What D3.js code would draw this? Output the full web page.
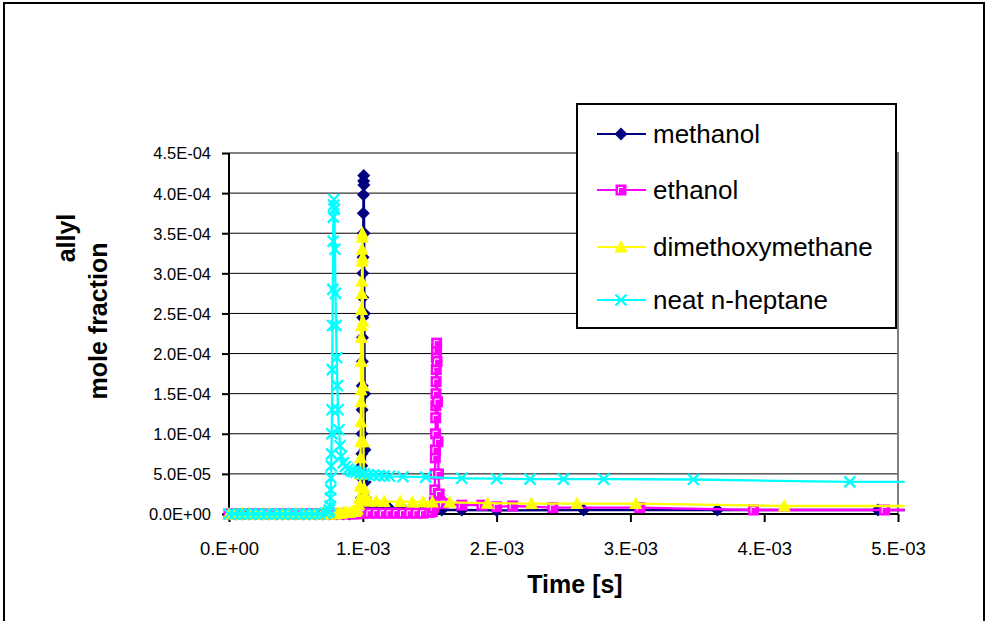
<!DOCTYPE html>
<html><head><meta charset="utf-8">
<script src="https://cdn.jsdelivr.net/npm/d3@7"></script>
<style>
html,body{margin:0;padding:0;background:#fff;}
text{font-family:"Liberation Sans",Arial,sans-serif;fill:#000;}
</style></head>
<body>
<svg id="chart" width="987" height="621"></svg>
<script>
// ---- data (time in ms, allyl mole fraction) ----
const seriesNames = ["methanol","ethanol","dimethoxymethane","neat n-heptane"];
const methanol = [[0,0],[0.05,0],[0.10,0],[0.15,0],[0.20,0],[0.25,0],[0.30,0],[0.35,0],[0.40,0],[0.45,0],[0.50,0],[0.55,0],[0.60,0],[0.65,0],[0.70,0],[0.75,0],[0.80,0],[0.85,0],[0.90,0],[0.95,1e-6],
 [0.97,2e-6],[0.985,5e-6],[0.990,2e-5],[0.991,4.5e-5],[0.992,6e-5],[0.993,7.5e-5],[0.994,1.0e-4],[0.995,1.3e-4],[0.996,1.6e-4],[0.997,1.9e-4],[0.998,2.2e-4],[0.999,2.45e-4],[1.000,2.7e-4],[1.001,3.0e-4],[1.002,3.2e-4],[1.003,3.5e-4],[1.004,3.75e-4],[1.005,3.98e-4],[1.006,4.15e-4],[1.007,4.22e-4],[1.008,4.1e-4],
 [1.010,3.5e-4],[1.012,2.5e-4],[1.014,1.5e-4],[1.016,8e-5],[1.018,4e-5],[1.020,2e-5],[1.030,1.1e-5],[1.050,8e-6],[1.10,8e-6],[1.20,7e-6],[1.30,7e-6],[1.45,6e-6],[1.59,5e-6],[1.74,5e-6],[2.00,4.5e-6],[2.65,5e-6],[3.65,5e-6],[4.85,5e-6],[5.05,5e-6]];
const ethanol = [[0,0],[0.05,0],[0.10,0],[0.15,0],[0.20,0],[0.25,0],[0.30,0],[0.35,0],[0.40,0],[0.45,0],[0.50,0],[0.55,0],[0.60,0],[0.65,0],[0.70,0],[0.75,0],[0.80,0],[0.85,0],[0.90,0],[0.95,0],
 [1.00,1e-6],[1.05,1e-6],[1.10,1e-6],[1.15,1e-6],[1.20,1e-6],[1.25,1e-6],[1.30,1e-6],[1.35,1e-6],[1.40,1e-6],[1.45,1e-6],[1.50,2e-6],[1.52,3e-6],[1.53,8e-6],
 [1.535,1.5e-5],[1.538,3e-5],[1.540,5e-5],[1.542,7e-5],[1.543,8e-5],[1.544,1.0e-4],[1.545,1.2e-4],[1.546,1.35e-4],[1.547,1.5e-4],[1.548,1.65e-4],[1.549,1.8e-4],[1.550,1.95e-4],[1.551,2.05e-4],[1.552,2.13e-4],
 [1.555,1.9e-4],[1.558,1.4e-4],[1.562,9e-5],[1.566,5e-5],[1.570,2.5e-5],[1.58,1.5e-5],[1.60,1.3e-5],[1.74,1.1e-5],[1.89,1.1e-5],[2.00,9e-6],[2.12,1e-5],[2.42,8e-6],[3.07,8e-6],[3.92,5e-6],[4.90,5e-6],[5.05,5e-6]];
const dimethoxymethane = [[0,0],[0.05,0],[0.10,0],[0.15,0],[0.20,0],[0.25,0],[0.30,0],[0.35,0],[0.40,0],[0.45,0],[0.50,0],[0.55,0],[0.60,0],[0.65,0],[0.70,0],[0.75,0],[0.80,0],
 [0.82,1e-6],[0.84,1e-6],[0.86,2e-6],[0.88,2e-6],[0.90,2e-6],[0.92,3e-6],[0.94,3e-6],[0.95,4e-6],[0.96,6e-6],[0.97,1.2e-5],[0.975,2e-5],
 [0.980,3.5e-5],[0.982,5e-5],[0.983,7e-5],[0.984,9e-5],[0.985,1.15e-4],[0.986,1.4e-4],[0.987,1.55e-4],[0.988,1.9e-4],[0.989,2.2e-4],[0.990,2.35e-4],[0.991,2.55e-4],[0.992,2.75e-4],[0.993,2.9e-4],[0.994,3.15e-4],[0.995,3.3e-4],[0.996,3.45e-4],[0.997,3.5e-4],
 [0.999,3.2e-4],[1.001,2.4e-4],[1.003,1.6e-4],[1.005,9e-5],[1.007,5e-5],[1.010,3.2e-5],[1.015,2.4e-5],[1.02,2e-5],[1.03,1.7e-5],[1.05,1.6e-5],[1.10,1.6e-5],[1.16,1.55e-5],[1.28,1.55e-5],[1.37,1.5e-5],[1.45,1.5e-5],[1.52,1.5e-5],[1.65,1.45e-5],[1.93,1.35e-5],[2.26,1.3e-5],[2.60,1.3e-5],[3.04,1.3e-5],[4.15,1.0e-5],[5.05,1.0e-5]];
const heptane = [[0,0],[0.04,0],[0.08,0],[0.12,0],[0.16,0],[0.20,0],[0.24,0],[0.28,0],[0.32,0],[0.36,0],[0.40,0],[0.44,0],[0.48,0],[0.52,0],[0.56,0],[0.60,0],[0.64,0],[0.68,0],[0.72,1e-6],
 [0.745,2e-6],[0.750,5e-6],[0.755,1e-5],[0.758,2e-5],[0.760,3e-5],[0.762,4.5e-5],[0.764,6e-5],[0.766,7.5e-5],[0.768,1.0e-4],[0.770,1.3e-4],[0.772,1.8e-4],[0.774,2.35e-4],[0.776,2.8e-4],[0.778,3.4e-4],[0.780,3.7e-4],[0.782,3.85e-4],[0.784,3.92e-4],
 [0.788,3.8e-4],[0.792,3.3e-4],[0.796,2.75e-4],[0.800,2.35e-4],[0.805,1.95e-4],[0.810,1.6e-4],[0.815,1.3e-4],[0.822,1.05e-4],[0.830,8.5e-5],[0.840,7.2e-5],[0.855,6.4e-5],[0.870,5.9e-5],[0.890,5.6e-5],[0.91,5.4e-5],[0.93,5.3e-5],[0.95,5.2e-5],[0.98,5.1e-5],
 [1.01,5.0e-5],[1.04,4.9e-5],[1.08,4.85e-5],[1.12,4.8e-5],[1.16,4.75e-5],[1.20,4.7e-5],[1.30,4.65e-5],[1.47,4.6e-5],[1.74,4.45e-5],[2.00,4.4e-5],[2.25,4.35e-5],[2.50,4.35e-5],[2.80,4.35e-5],[3.47,4.3e-5],[4.64,4.0e-5],[5.05,4.0e-5]];

const xTickValues = [0,1,2,3,4,5];
const xTickLabels = ["0.E+00","1.E-03","2.E-03","3.E-03","4.E-03","5.E-03"];
const yTickValues = [0,5e-5,1e-4,1.5e-4,2e-4,2.5e-4,3e-4,3.5e-4,4e-4,4.5e-4];
const yTickLabels = ["0.0E+00","5.0E-05","1.0E-04","1.5E-04","2.0E-04","2.5E-04","3.0E-04","3.5E-04","4.0E-04","4.5E-04"];
const colors = ["#000080","#FF00FF","#FFFF00","#00FFFF"];
const markerKinds = ["diamond","square","triangle","cross"];
const xTitle = "Time [s]";
const yTitleLines = ["allyl","mole fraction"];

// ---- layout ----
const svg = d3.select("#chart");
const L = 229, R = 898, T = 153, B = 514;
const x = d3.scaleLinear().domain([0,5]).range([L,R]);
const y = d3.scaleLinear().domain([0,4.5e-4]).range([B,T]);

// outer frame
svg.append("rect").attr("x",4).attr("y",3).attr("width",980).attr("height",700)
  .attr("fill","#fff").attr("stroke","#000").attr("stroke-width",2);

// gridlines
svg.append("g").selectAll("line").data(yTickValues.slice(1,-1)).join("line")
  .attr("x1",L).attr("x2",R).attr("y1",d=>y(d)).attr("y2",d=>y(d))
  .attr("stroke","#000").attr("stroke-width",1);

// plot border (gray top/right)
svg.append("path").attr("d",`M${L},${T}H${R}V${B}`).attr("fill","none")
  .attr("stroke","#808080").attr("stroke-width",2);

// axes
const yAxis = svg.append("g").attr("transform",`translate(${L},0)`)
  .call(d3.axisLeft(y).tickValues(yTickValues).tickFormat((d,i)=>yTickLabels[i]).tickSize(7).tickPadding(11));
const xAxis = svg.append("g").attr("transform",`translate(0,${B})`)
  .call(d3.axisBottom(x).tickValues(xTickValues).tickFormat((d,i)=>xTickLabels[i]).tickSize(8).tickPadding(10));
[yAxis,xAxis].forEach(g=>{
  g.select(".domain").attr("stroke","#000").attr("stroke-width",2);
  g.selectAll(".tick line").attr("stroke","#000").attr("stroke-width",2);
  g.selectAll("text").attr("fill","#000").attr("font-family","'Liberation Sans',Arial,sans-serif");
});
yAxis.selectAll("text").attr("font-size",16.5).attr("dy","0.36em");
xAxis.selectAll("text").attr("font-size",18.5).attr("y",41).attr("dy",0);
yAxis.select(".domain").attr("d",`M0,${T}V${B}`);
xAxis.select(".domain").attr("d",`M${L},0H${R}`);

// titles
svg.append("text").attr("x",575).attr("y",593).attr("text-anchor","middle")
  .attr("font-size",25).attr("font-weight","bold").text(xTitle);
svg.append("text").attr("transform","translate(75,238) rotate(-90)").attr("text-anchor","middle")
  .attr("font-size",25).attr("font-weight","bold").text(yTitleLines[0]);
svg.append("text").attr("transform","translate(107,321) rotate(-90)").attr("text-anchor","middle")
  .attr("font-size",25).attr("font-weight","bold").text(yTitleLines[1]);

// markers
function drawMarker(g, kind, color, cx, cy){
  if(kind==="diamond"){
    g.append("path").attr("d",`M${cx},${cy-6.5}L${cx+6.5},${cy}L${cx},${cy+6.5}L${cx-6.5},${cy}Z`).attr("fill",color);
  } else if(kind==="square"){
    g.append("rect").attr("x",cx-5.5).attr("y",cy-5.5).attr("width",11).attr("height",11).attr("fill",color);
    g.append("path").attr("d",`M${cx-2.5},${cy+3}V${cy-2.5}H${cx+2}`).attr("fill","none").attr("stroke","#fff").attr("stroke-width",1);
  } else if(kind==="triangle"){
    g.append("path").attr("d",`M${cx},${cy-7}L${cx+6.5},${cy+5.5}L${cx-6.5},${cy+5.5}Z`).attr("fill",color);
  } else {
    g.append("path").attr("d",`M${cx-5.5},${cy-5.5}L${cx+5.5},${cy+5.5}M${cx+5.5},${cy-5.5}L${cx-5.5},${cy+5.5}`)
      .attr("stroke",color).attr("stroke-width",2.3).attr("fill","none");
  }
}

const allSeries = [methanol, ethanol, dimethoxymethane, heptane];
const line = d3.line().x(d=>x(d[0])).y(d=>y(d[1]));
allSeries.forEach((s,i)=>{
  const g = svg.append("g");
  g.append("path").datum(s).attr("d",line).attr("fill","none")
    .attr("stroke",colors[i]).attr("stroke-width",2.3).attr("stroke-linejoin","round");
  s.filter(d=>d[0]<=5).forEach(d=>drawMarker(g, markerKinds[i], colors[i], x(d[0]), y(d[1])));
});

// legend
const lg = svg.append("g");
lg.append("rect").attr("x",577).attr("y",104).attr("width",319).attr("height",224)
  .attr("fill","#fff").attr("stroke","#000").attr("stroke-width",2);
const legendY = [134,190,247,300];
seriesNames.forEach((n,i)=>{
  lg.append("line").attr("x1",597).attr("x2",646).attr("y1",legendY[i]).attr("y2",legendY[i])
    .attr("stroke",colors[i]).attr("stroke-width",2);
  drawMarker(lg, markerKinds[i], colors[i], 621, legendY[i]);
  lg.append("text").attr("x",653).attr("y",legendY[i]+8.5).attr("font-size",26).text(n);
});
</script>
</body></html>
